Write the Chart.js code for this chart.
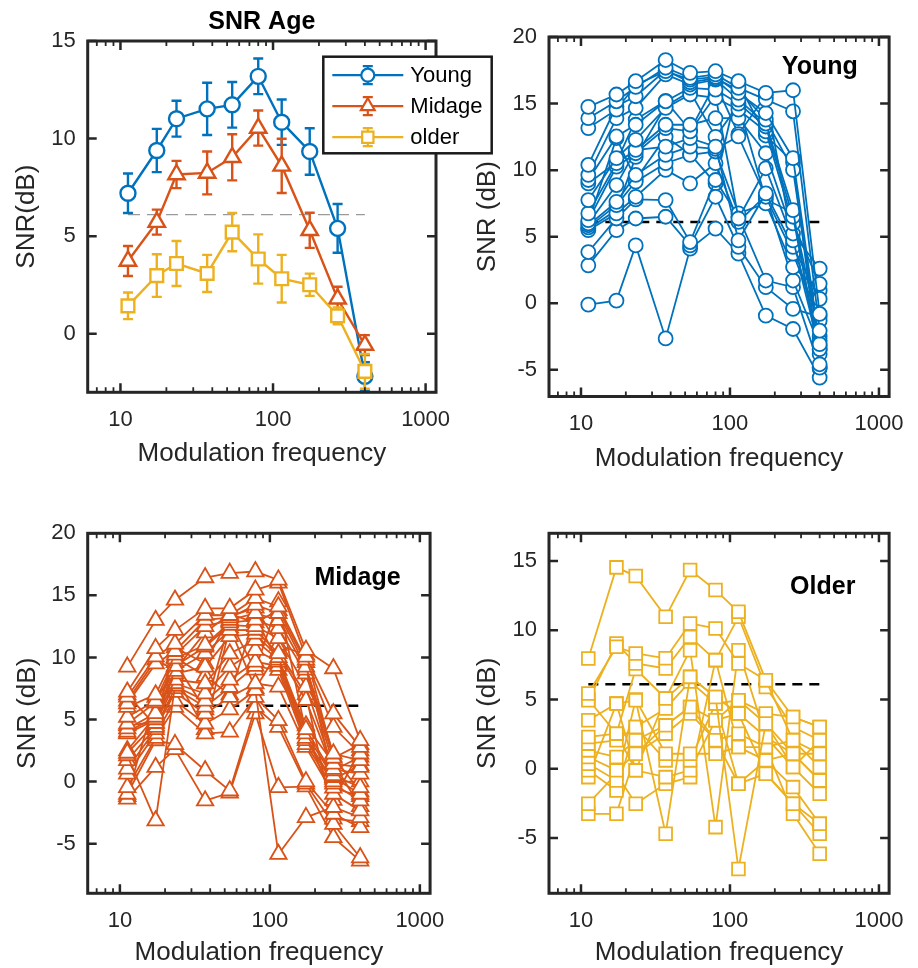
<!DOCTYPE html>
<html>
<head>
<meta charset="utf-8">
<title>SNR by age group</title>
<script src="https://cdn.jsdelivr.net/npm/chart.js@4.4.0/dist/chart.umd.min.js"></script>
<style>
    body { margin: 0; background: #fff; width: 918px; height: 968px; position: relative; overflow: hidden; }
    canvas { position: absolute; }
    #c1 { left: 0; top: 0; z-index: 2; }
    #c2 { left: 459px; top: 0; }
    #c3 { left: 0; top: 480px; }
    #c4 { left: 459px; top: 480px; }
</style>
</head>
<body>
<canvas id="c1" width="500" height="480"></canvas>
<canvas id="c2" width="459" height="480"></canvas>
<canvas id="c3" width="459" height="488"></canvas>
<canvas id="c4" width="459" height="488"></canvas>
<script>
// modulation frequencies (Hz) and the 6.1 dB reference level
const freqs = [11.2, 17.3, 23.3, 37, 54, 80, 114, 174, 265, 400];
const threshold = 6.1;
const xTickValues = [10, 100, 1000];
const xMinorValues = [7, 8, 9, 20, 30, 40, 50, 60, 70, 80, 90, 200, 300, 400, 500, 600, 700, 800, 900];

// group means with error bars
const youngMean = [7.2, 9.39, 11.02, 11.52, 11.73, 13.19, 10.84, 9.34, 5.4, -2.18];
const youngErr = [1.01, 1.11, 0.92, 1.34, 1.17, 0.91, 1.16, 1.19, 1.25, 0.72];
const midageMean = [3.73, 5.72, 8.16, 8.24, 9.04, 10.54, 8.6, 5.3, 1.79, -0.58];
const midageErr = [0.77, 0.64, 0.7, 1.1, 1.18, 0.9, 1.39, 0.9, 0.62, 0.51];
const olderMean = [1.43, 2.98, 3.6, 3.09, 5.21, 3.83, 2.82, 2.51, 0.92, -1.93];
const olderErr = [0.68, 1.09, 1.15, 0.95, 0.98, 1.26, 1.22, 0.57, 0.43, 0.89];

// individual listeners, one row per subject
const youngSubjects = [
    [14.75, 15.68, 16.68, 18.27, 17.31, 17.43, 16.68, 15.8, 16.0, -0.8],
    [13.9, 15.17, 16.25, 17.69, 16.93, 17.19, 16.18, 15.3, 14.42, -2.06],
    [13.16, 14.54, 16.4, 17.43, 16.8, 17.0, 15.8, 14.29, 10.9, -3.07],
    [10.39, 14.8, 15.55, 17.5, 16.6, 16.9, 16.0, 13.79, 10.02, -3.44],
    [9.64, 13.9, 14.67, 17.19, 16.43, 16.8, 15.3, 13.5, 7.0, -4.58],
    [9.26, 12.53, 13.41, 15.17, 16.18, 16.05, 15.0, 13.28, 6.5, -3.82],
    [7.75, 10.9, 12.28, 14.67, 15.68, 15.42, 14.54, 12.91, 6.0, 1.46],
    [6.75, 10.52, 11.52, 13.41, 13.41, 13.9, 13.9, 11.27, 5.24, 2.6],
    [6.24, 10.26, 11.27, 13.16, 12.91, 15.6, 6.37, 10.14, 4.73, -2.82],
    [6.0, 8.88, 11.5, 11.77, 12.4, 11.77, 4.73, 8.25, 4.23, 0.33],
    [5.86, 7.62, 9.64, 11.15, 11.77, 11.6, 12.53, 8.0, 3.73, -1.31],
    [5.7, 7.37, 9.13, 10.52, 11.15, 11.4, 6.75, 7.5, 2.72, 0.96],
    [5.49, 6.75, 8.0, 10.02, 9.01, 10.52, 6.11, 8.1, 1.71, -3.2],
    [3.85, 6.37, 7.8, 7.75, 4.6, 9.26, 6.5, 1.71, 1.21, -4.83],
    [2.85, 5.49, 6.37, 6.5, 4.35, 8.0, 4.23, 1.21, -0.42, -1.0],
    [-0.1, 0.2, 4.35, -2.64, 4.1, 5.61, 3.73, -0.93, -1.93, -5.58],
    [9.0, 10.6, 13.8, 15.2, 13.0, 16.5, 12.7, 15.6, 4.5, -3.5],
    [6.1, 12.4, 9.3, 12.5, 11.2, 9.0, 16.5, 12.6, 10.6, -4.9],
    [5.6, 7.0, 11.0, 14.8, 15.9, 12.5, 14.9, 7.8, 6.8, -2.5]
];
const midageSubjects = [
    [9.24, 13.0, 14.63, 16.44, 16.79, 16.92, 16.25, 10.59, 9.11, 3.32],
    [7.22, 10.73, 12.2, 13.96, 13.96, 15.44, 16.0, 10.05, 5.47, 2.78],
    [6.82, 10.06, 11.1, 13.42, 13.4, 14.77, 14.09, 9.8, 4.39, 2.24],
    [6.28, 9.5, 10.5, 13.02, 13.2, 14.23, 13.56, 9.24, 2.24, 1.7],
    [6.0, 7.0, 10.2, 12.5, 13.0, 13.56, 13.0, 9.0, 1.9, 3.0],
    [5.2, 6.5, 9.9, 11.0, 12.8, 13.02, 12.34, 8.7, 1.43, 1.16],
    [4.66, 6.37, 9.3, 10.86, 12.6, 12.5, 11.54, 7.63, 1.0, 0.62],
    [4.26, 5.5, 8.9, 10.32, 12.2, 12.21, 10.32, 6.55, 0.89, 2.0],
    [4.0, 5.2, 8.7, 9.24, 11.7, 11.9, 10.0, 4.2, 0.5, -0.46],
    [3.86, 5.0, 8.2, 7.9, 10.3, 11.4, 9.8, 3.86, 0.35, -1.0],
    [2.3, 4.7, 7.9, 7.09, 9.24, 10.59, 9.65, 3.5, 0.0, 0.0],
    [2.1, -3.15, 7.7, 6.5, 8.2, 9.65, 9.3, 3.32, -0.19, -1.54],
    [1.7, 4.39, 7.5, 6.01, 7.6, 9.3, 8.97, 3.0, -0.5, -1.2],
    [1.03, 4.2, 7.2, 5.47, 6.8, 7.9, 7.63, 2.78, -1.0, -2.34],
    [0.62, 3.86, 6.5, 4.66, 5.8, 7.36, -5.85, -2.88, -2.07, -2.88],
    [-0.46, 3.5, 6.0, 3.86, 4.0, 6.8, 4.93, 0.0, -2.61, -3.69],
    [-1.0, 3.31, 3.0, 0.89, -0.73, 6.0, 4.39, -0.19, -3.42, -6.12],
    [-1.4, 1.16, 2.6, -1.54, -0.9, 5.47, -0.46, -0.4, -4.5, -6.39],
    [6.5, 9.8, 9.0, 12.0, 13.5, 12.8, 13.8, 9.6, 0.2, 1.3],
    [4.5, 4.8, 10.8, 9.5, 13.3, 14.0, 11.0, 10.2, 2.0, -0.8],
    [7.0, 4.5, 9.6, 5.8, 12.9, 9.0, 14.5, 3.9, -1.5, 2.5],
    [-1.2, 6.8, 8.5, 4.2, 12.4, 7.5, 10.5, 7.0, -3.0, -3.2],
    [2.5, 5.3, 10.0, 8.5, 7.0, 13.3, 9.5, 4.5, 1.5, -2.0]
];
const olderSubjects = [
    [7.96, 14.54, 13.91, 10.97, 14.35, 12.9, 11.33, 6.39, 3.73, 3.01],
    [5.43, 8.8, 8.32, 7.97, 10.49, 10.13, 7.6, 6.39, 2.05, 1.08],
    [4.94, 9.04, 7.6, 7.24, 9.52, 7.84, 10.97, 5.9, 3.01, 2.05],
    [3.5, 4.7, 4.94, -4.7, 6.63, 5.18, -7.24, 3.26, 1.08, -0.85],
    [2.29, 2.53, 7.2, 5.07, 8.56, -4.22, 8.56, 2.29, 0.12, -1.81],
    [1.81, 2.05, 3.01, 4.35, 6.3, 4.7, 4.94, 3.98, 3.73, 3.01],
    [1.32, 0.84, 2.05, 3.13, 4.46, 3.5, 3.98, 2.29, 1.08, -0.85],
    [0.84, -0.12, 1.08, 2.53, 3.98, 2.05, 2.53, 1.56, 2.05, 0.12],
    [0.36, -0.85, 5.0, 1.08, 1.08, 1.08, 1.56, 0.6, -1.33, -3.98],
    [-0.12, -1.57, 3.01, 0.6, 0.6, 4.7, -1.09, -0.36, -2.53, -4.7],
    [-0.61, 4.7, -0.12, -0.61, -0.12, 3.5, 4.94, 3.26, 0.12, 2.05],
    [-2.53, -0.36, -2.53, -1.09, -0.61, 7.84, 1.56, 1.56, -3.26, -6.15],
    [-3.26, -3.26, 1.08, 3.13, 4.46, 2.05, -1.09, 0.6, 1.08, 1.08],
    [5.0, 2.53, -0.12, 5.07, 6.63, 5.18, 3.98, -0.36, -2.53, -3.98]
];

const BLUE = "#0072BD";
const ORANGE = "#D95319";
const YELLOW = "#EDB120";
const INK = "#262626";
const FONT = '"Liberation Sans", Arial, Helvetica, sans-serif';

Chart.defaults.font.family = FONT;

const pts = ys => ys.map((y, i) => ({ x: freqs[i], y }));

function thresholdSet(color, width, dash) {
    return {
        data: [{ x: freqs[0], y: threshold }, { x: freqs[freqs.length - 1], y: threshold }],
        showLine: true, borderColor: color, borderWidth: width, borderDash: dash,
        pointRadius: 0, order: 99
    };
}

function subjectSets(rows, color, style, radius) {
    return rows.map(r => ({
        data: pts(r), showLine: true,
        borderColor: color, borderWidth: 1.8,
        pointStyle: style, pointRadius: radius,
        pointBorderColor: color, pointBackgroundColor: "#fff", pointBorderWidth: 1.8,
        order: 1
    }));
}

function meanSet(values, errors, color, style, radius, order) {
    return {
        data: pts(values), errors, showLine: true,
        borderColor: color, borderWidth: 2.4,
        pointStyle: style, pointRadius: radius,
        pointBorderColor: color, pointBackgroundColor: "#fff", pointBorderWidth: 2.4,
        order
    };
}

// vertical error bars with caps, drawn just before each dataset
const errorBars = {
    id: "errorBars",
    beforeDatasetDraw(chart, args) {
        const ds = chart.data.datasets[args.index];
        if (!ds.errors) return;
        const { ctx, scales: { x, y } } = chart;
        ctx.save();
        ctx.strokeStyle = ds.borderColor;
        ctx.lineWidth = 2.4;
        ctx.beginPath();
        ds.data.forEach((p, i) => {
            const px = x.getPixelForValue(p.x);
            const top = y.getPixelForValue(p.y + ds.errors[i]);
            const bot = y.getPixelForValue(p.y - ds.errors[i]);
            ctx.moveTo(px, top); ctx.lineTo(px, bot);
            ctx.moveTo(px - 5, top); ctx.lineTo(px + 5, top);
            ctx.moveTo(px - 5, bot); ctx.lineTo(px + 5, bot);
        });
        ctx.stroke();
        ctx.restore();
    }
};

function drawMarker(ctx, style, x, y, r) {
    ctx.beginPath();
    if (style === "circle") {
        ctx.arc(x, y, r, 0, Math.PI * 2);
    } else if (style === "triangle") {
        ctx.moveTo(x, y - r);
        ctx.lineTo(x + r * 0.866, y + r / 2);
        ctx.lineTo(x - r * 0.866, y + r / 2);
        ctx.closePath();
    } else {
        const s = r * Math.SQRT1_2;
        ctx.rect(x - s, y - s, 2 * s, 2 * s);
    }
    ctx.fill();
    ctx.stroke();
}

function drawLegend(ctx, area, lg) {
    const left = area.right + lg.dx, top = area.top + lg.dy;
    ctx.fillStyle = "#fff";
    ctx.fillRect(left, top, lg.w, lg.h);
    ctx.lineWidth = 2.5;
    ctx.strokeStyle = "#1a1a1a";
    ctx.strokeRect(left, top, lg.w, lg.h);
    lg.items.forEach((it, i) => {
        const cy = top + 18.5 + i * 31;
        const mx = left + 44.5;
        ctx.strokeStyle = it.color;
        ctx.lineWidth = 2.2;
        ctx.beginPath();
        ctx.moveTo(left + 9, cy); ctx.lineTo(left + 80, cy);
        ctx.moveTo(mx, cy - 9); ctx.lineTo(mx, cy + 9);
        ctx.moveTo(mx - 5, cy - 9); ctx.lineTo(mx + 5, cy - 9);
        ctx.moveTo(mx - 5, cy + 9); ctx.lineTo(mx + 5, cy + 9);
        ctx.stroke();
        ctx.fillStyle = "#fff";
        drawMarker(ctx, it.style, mx, cy, it.radius);
        ctx.fillStyle = "#000";
        ctx.font = "22px " + FONT;
        ctx.textAlign = "left";
        ctx.textBaseline = "middle";
        ctx.fillText(it.text, left + 87, cy + 1);
    });
}

// axes box with inward ticks, panel label and legend
const decor = {
    id: "decor",
    afterDraw(chart, args, o) {
        const { ctx, chartArea: a, scales: { x, y } } = chart;
        ctx.save();
        ctx.strokeStyle = INK;
        ctx.lineWidth = 1.8;
        ctx.beginPath();
        xMinorValues.forEach(v => {
            const px = x.getPixelForValue(v);
            ctx.moveTo(px, a.bottom); ctx.lineTo(px, a.bottom - 5);
            ctx.moveTo(px, a.top); ctx.lineTo(px, a.top + 5);
        });
        ctx.stroke();
        ctx.lineWidth = 2.5;
        ctx.beginPath();
        xTickValues.forEach(v => {
            const px = x.getPixelForValue(v);
            ctx.moveTo(px, a.bottom); ctx.lineTo(px, a.bottom - 9);
            ctx.moveTo(px, a.top); ctx.lineTo(px, a.top + 9);
        });
        o.yTicks.forEach(v => {
            const py = y.getPixelForValue(v);
            ctx.moveTo(a.left, py); ctx.lineTo(a.left + 9, py);
            ctx.moveTo(a.right, py); ctx.lineTo(a.right - 9, py);
        });
        ctx.stroke();
        ctx.lineWidth = 3;
        ctx.strokeRect(a.left, a.top, a.right - a.left, a.bottom - a.top);
        if (o.label) {
            ctx.fillStyle = "#000";
            ctx.font = "bold 25px " + FONT;
            ctx.textAlign = "right";
            ctx.textBaseline = "middle";
            ctx.fillText(o.label, a.right + o.labelDx, a.top + o.labelDy);
        }
        if (o.legend) drawLegend(ctx, a, o.legend);
        ctx.restore();
    }
};

function buildPanel(id, p) {
    return new Chart(document.getElementById(id), {
        type: "scatter",
        data: { datasets: p.datasets },
        options: {
            responsive: false,
            animation: false,
            layout: { padding: { left: 0, top: p.padTop, right: p.padRight, bottom: 0 } },
            plugins: {
                legend: { display: false },
                tooltip: { enabled: false },
                title: p.title || { display: false },
                decor: { yTicks: p.yTicks, label: p.label, labelDx: p.labelDx, labelDy: p.labelDy, legend: p.legend }
            },
            scales: {
                x: {
                    type: "logarithmic", min: 6.1, max: 1170,
                    grid: { display: false, drawTicks: false },
                    border: { display: false },
                    afterBuildTicks: s => { s.ticks = xTickValues.map(v => ({ value: v })); },
                    afterFit: s => { s.height = p.xAxisH; },
                    ticks: {
                        font: { size: 22 }, color: INK, padding: 14,
                        maxRotation: 0, autoSkip: false, callback: v => String(v)
                    },
                    title: {
                        display: true, text: "Modulation frequency", color: INK,
                        font: { size: 26 }, padding: { top: 0, bottom: p.xTitlePad }
                    }
                },
                y: {
                    min: p.yMin, max: p.yMax,
                    grid: { display: false, drawTicks: false },
                    border: { display: false },
                    afterBuildTicks: s => { s.ticks = p.yTicks.map(v => ({ value: v })); },
                    afterFit: s => { s.width = p.yAxisW; },
                    ticks: { font: { size: 22 }, color: INK, padding: 12, callback: v => String(v) },
                    title: {
                        display: true, text: p.yTitle, color: INK,
                        font: { size: 26 }, padding: { top: p.yTitlePad, bottom: 0 }
                    }
                }
            }
        },
        plugins: [errorBars, decor]
    });
}

buildPanel("c1", {
    datasets: [
        thresholdSet("#9a9a9a", 1.2, [12, 7]),
        meanSet(youngMean, youngErr, BLUE, "circle", 7.5, 3),
        meanSet(midageMean, midageErr, ORANGE, "triangle", 9.5, 2),
        meanSet(olderMean, olderErr, YELLOW, "rect", 9, 1)
    ],
    title: {
        display: true, text: "SNR Age", fullSize: false, color: "#000",
        font: { size: 25, weight: "bold" }, padding: { top: 7, bottom: 4 }
    },
    yMin: -3, yMax: 15, yTicks: [0, 5, 10, 15], yTitle: "SNR(dB)",
    yAxisW: 87.7, xAxisH: 87.7, padTop: 0, padRight: 64,
    xTitlePad: 11, yTitlePad: 11,
    legend: {
        dx: -112.7, dy: 15.7, w: 168.4, h: 96.6,
        items: [
            { text: "Young", color: BLUE, style: "circle", radius: 6.5 },
            { text: "Midage", color: ORANGE, style: "triangle", radius: 8 },
            { text: "older", color: YELLOW, style: "rect", radius: 8 }
        ]
    }
});

buildPanel("c2", {
    datasets: [thresholdSet("#000", 2.5, [10, 7])].concat(subjectSets(youngSubjects, BLUE, "circle", 7)),
    yMin: -7, yMax: 20, yTicks: [-5, 0, 5, 10, 15, 20], yTitle: "SNR (dB)",
    yAxisW: 90, xAxisH: 83.5, padTop: 37, padRight: 19.3,
    xTitlePad: 6, yTitlePad: 13,
    label: "Young", labelDx: -31.4, labelDy: 29.7
});

buildPanel("c3", {
    datasets: [thresholdSet("#000", 2.5, [10, 7])].concat(subjectSets(midageSubjects, ORANGE, "triangle", 9.5)),
    yMin: -9, yMax: 20, yTicks: [-5, 0, 5, 10, 15, 20], yTitle: "SNR (dB)",
    yAxisW: 87.7, xAxisH: 74.7, padTop: 53.3, padRight: 22.5,
    xTitlePad: 0, yTitlePad: 12,
    label: "Midage", labelDx: -29.5, labelDy: 45
});

buildPanel("c4", {
    datasets: [thresholdSet("#000", 2.5, [10, 7])].concat(subjectSets(olderSubjects, YELLOW, "rect", 9)),
    yMin: -9, yMax: 17, yTicks: [-5, 0, 5, 10, 15], yTitle: "SNR (dB)",
    yAxisW: 90, xAxisH: 74.7, padTop: 53.3, padRight: 19.3,
    xTitlePad: 0, yTitlePad: 13,
    label: "Older", labelDx: -33.7, labelDy: 54
});
</script>
</body>
</html>
